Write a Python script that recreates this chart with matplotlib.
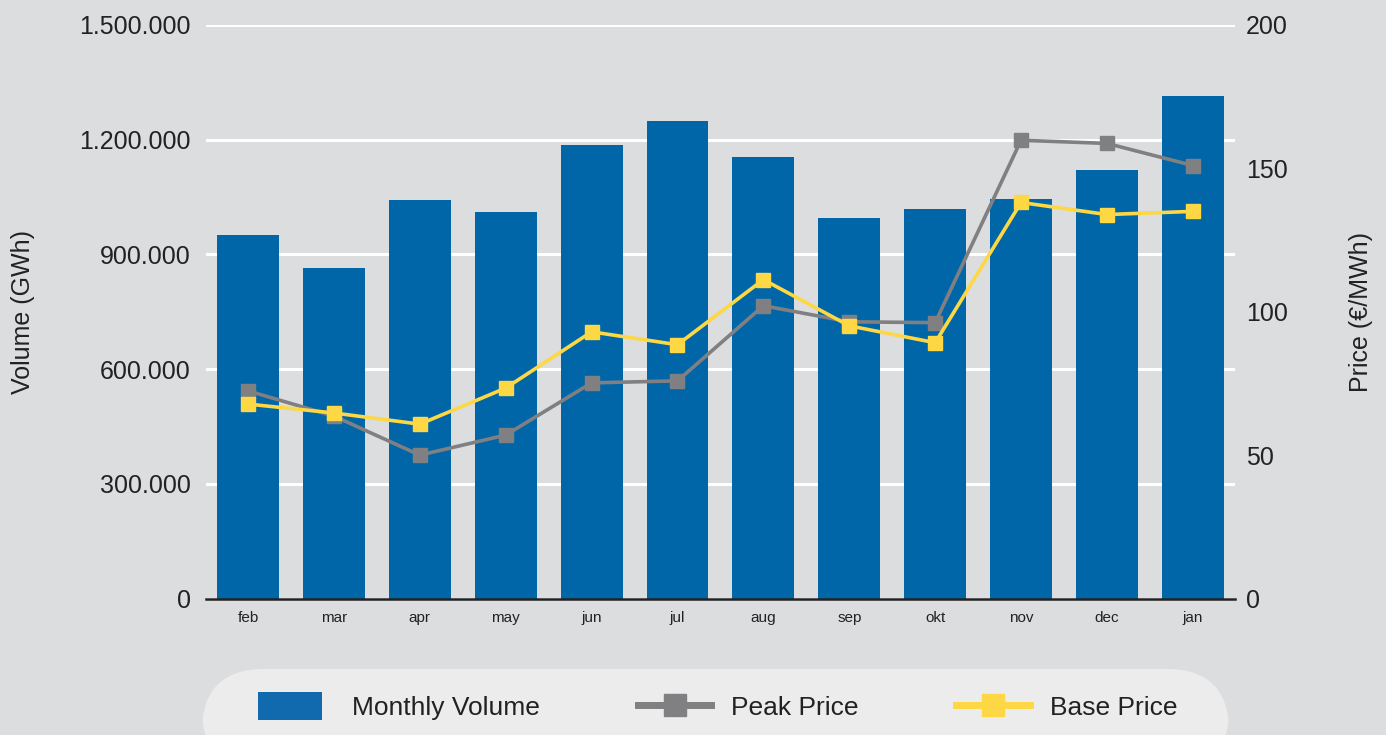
import matplotlib
matplotlib.use('Agg')
import matplotlib.pyplot as plt
from matplotlib.ticker import FuncFormatter
from matplotlib.patches import FancyBboxPatch, Patch, Rectangle
from matplotlib.lines import Line2D
from matplotlib.legend_handler import HandlerPatch

plt.rcParams['font.family'] = ['Liberation Sans', 'DejaVu Sans']

# data
months = ['feb', 'mar', 'apr', 'may', 'jun', 'jul', 'aug', 'sep', 'okt', 'nov', 'dec', 'jan']
volume = [952000, 865000, 1041000, 1012000, 1185000, 1248000, 1154000, 994000, 1020000, 1046000, 1120000, 1314000]
peak_price = [72.4, 63.6, 50.0, 57.0, 75.2, 75.9, 102.1, 96.5, 96.2, 159.8, 158.7, 151.0]
base_price = [67.8, 64.7, 60.8, 73.4, 93.0, 88.5, 111.2, 95.1, 89.2, 138.1, 133.9, 135.0]
vol_ticks = [0, 300000, 600000, 900000, 1200000, 1500000]
price_ticks = [0, 50, 100, 150, 200]

BG = '#dcdddf'
BLUE = '#0066a8'
GREY = '#808083'
YELLOW = '#fdd744'
TXT = '#222222'

fig = plt.figure(figsize=(13.86, 7.35), dpi=100, facecolor=BG)
ax = fig.add_axes([0.1486, 0.1857, 0.7424, 0.7803])
ax.set_facecolor(BG)

x = list(range(len(months)))
ax.bar(x, volume, width=0.72, color=BLUE, zorder=2)
ax.set_xlim(-0.49, 11.49)
ax.set_ylim(0, 1500000)
ax.set_yticks(vol_ticks)
ax.yaxis.set_major_formatter(FuncFormatter(lambda v, p: f"{int(v):,}".replace(",", ".")))
ax.set_xticks(x)
ax.set_xticklabels(months)
ax.grid(axis='y', color='white', linewidth=2.2, zorder=0)
ax.set_axisbelow(True)
for s in ['top', 'left', 'right']:
    ax.spines[s].set_visible(False)
ax.spines['bottom'].set_color(TXT)
ax.spines['bottom'].set_linewidth(1.8)
ax.spines['bottom'].set_zorder(5)
ax.tick_params(axis='y', length=0, pad=11, labelsize=18, labelcolor=TXT)
ax.tick_params(axis='x', length=0, pad=9, labelsize=11, labelcolor=TXT)
ax.set_ylabel('Volume (GWh)', fontsize=18, color=TXT, labelpad=32)

ax2 = ax.twinx()
ax2.plot(x, peak_price, color=GREY, linewidth=2.6, marker='s', markersize=10, zorder=3)
ax2.plot(x, base_price, color=YELLOW, linewidth=2.6, marker='s', markersize=10, zorder=4)
ax2.set_ylim(0, 200)
ax2.set_yticks(price_ticks)
for s in ['top', 'left', 'right', 'bottom']:
    ax2.spines[s].set_visible(False)
ax2.tick_params(axis='y', length=0, pad=8, labelsize=18, labelcolor=TXT)
ax2.set_ylabel('Price (€/MWh)', fontsize=18, color=TXT, labelpad=44)

# legend box with rounded corners running off the bottom edge
box = FancyBboxPatch((202 / 1386, -0.05), (1229 - 202) / 1386, (735 - 669) / 735 + 0.05,
                     boxstyle='round,pad=0,rounding_size=0.045', transform=fig.transFigure,
                     facecolor='#ececec', edgecolor='none', mutation_aspect=1386 / 735)
fig.patches.append(box)


def small_rect(legend, orig_handle, xdescent, ydescent, width, height, fontsize):
    # left aligned block, narrower and taller than the line handles
    w = 46
    h = 20
    return Rectangle((-xdescent, -ydescent + (height - h) / 2), w, h)


handles = [
    Patch(facecolor='#116aad', edgecolor='none'),
    Line2D([], [], color=GREY, linewidth=5, marker='s', markersize=16),
    Line2D([], [], color=YELLOW, linewidth=5, marker='s', markersize=16),
]
labels = ['Monthly Volume', 'Peak Price', 'Base Price']
fig.legend(handles, labels, loc='center', bbox_to_anchor=(718 / 1386, 1 - 707 / 735), ncol=3,
           frameon=False, fontsize=19, handlelength=2.8, handleheight=1.1, handletextpad=0.75,
           columnspacing=3.7, labelcolor=TXT,
           handler_map={Patch: HandlerPatch(patch_func=small_rect)})

fig.savefig('out.png', dpi=100, facecolor=BG)
